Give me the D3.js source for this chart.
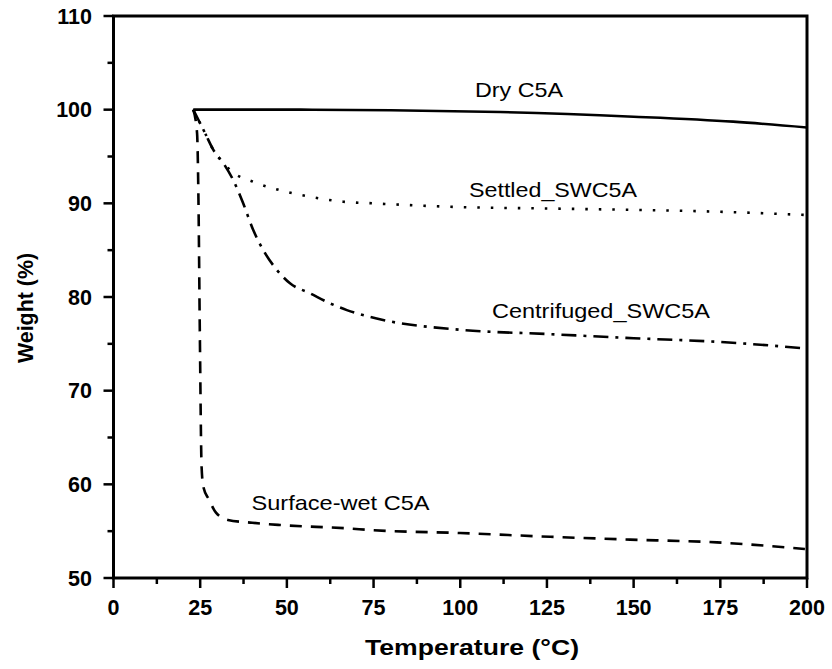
<!DOCTYPE html>
<html><head><meta charset="utf-8">
<script src="https://cdn.jsdelivr.net/npm/d3@7"></script>
<style>body{margin:0;background:#fff;} svg{display:block;}</style>
</head><body>
<svg id="chart" width="832" height="669"></svg>
<script>
const xTicks = [0, 25, 50, 75, 100, 125, 150, 175, 200];
const yTicks = [50, 60, 70, 80, 90, 100, 110];

const dryT = [23, 54, 80, 111.5, 150, 178.7, 200];
const dryW = [100, 100, 99.93, 99.75, 99.25, 98.72, 98.1];

const settledT = [23, 26.4, 28.8, 31.7, 34.1, 40.3, 48, 56.7, 66.3, 74.8, 100, 125, 150, 175, 200];
const settledW = [100, 97.5, 95.7, 94.3, 93.4, 92.3, 91.4, 90.7, 90.17, 90.0, 89.6, 89.45, 89.3, 89.1, 88.75];

const centT = [23, 26.4, 28.8, 31.7, 34.5, 37.4, 40.3, 43.2, 47.1, 50.9, 56.7, 62.4, 67.3, 75.9, 100, 125, 150, 175, 200];
const centW = [100, 97.5, 95.7, 94.27, 92.5, 90.0, 87.15, 85.0, 82.9, 81.46, 80.4, 79.33, 78.6, 77.7, 76.5, 76.05, 75.6, 75.2, 74.5];

const wetT = [23, 24.1, 24.5, 24.9, 25.4, 25.9, 27.5, 29.5, 33, 40, 48, 67.3, 75, 100, 125.9, 149, 174, 199.4];
const wetW = [100, 97.5, 90.4, 76.1, 61.9, 59.75, 58.4, 57.0, 56.2, 55.9, 55.66, 55.3, 55.1, 54.8, 54.4, 54.1, 53.8, 53.1];

const seriesNames = ["Dry C5A", "Settled_SWC5A", "Centrifuged_SWC5A", "Surface-wet C5A"];

const svg = d3.select("#chart");
const L = 113.5, R = 807, T = 16, B = 578;
const x = d3.scaleLinear().domain([0, 200]).range([L, R]);
const y = d3.scaleLinear().domain([50, 110]).range([B, T]);

const font = "Arial, 'Liberation Sans', sans-serif";

// frame
svg.append("rect").attr("x", L).attr("y", T).attr("width", R - L).attr("height", B - T)
  .attr("fill", "none").attr("stroke", "#000").attr("stroke-width", 3);

// x axis ticks
const xMinor = d3.range(12.5, 200, 25);
svg.selectAll(".xt").data(xTicks).enter().append("line")
  .attr("x1", d => x(d)).attr("x2", d => x(d)).attr("y1", B).attr("y2", B + 10)
  .attr("stroke", "#000").attr("stroke-width", 2.5);
svg.selectAll(".xm").data(xMinor).enter().append("line")
  .attr("x1", d => x(d)).attr("x2", d => x(d)).attr("y1", B).attr("y2", B + 6)
  .attr("stroke", "#000").attr("stroke-width", 2.5);
svg.selectAll(".xl").data(xTicks).enter().append("text")
  .attr("x", d => x(d)).attr("y", 615).attr("text-anchor", "middle")
  .attr("font-family", font).attr("font-weight", "bold").attr("font-size", 21.5)
  .text(d => d);

// y axis ticks
const yMinor = d3.range(55, 110, 10);
svg.selectAll(".yt").data(yTicks).enter().append("line")
  .attr("x1", L - 10).attr("x2", L).attr("y1", d => y(d)).attr("y2", d => y(d))
  .attr("stroke", "#000").attr("stroke-width", 2.5);
svg.selectAll(".ym").data(yMinor).enter().append("line")
  .attr("x1", L - 6).attr("x2", L).attr("y1", d => y(d)).attr("y2", d => y(d))
  .attr("stroke", "#000").attr("stroke-width", 2.5);
svg.selectAll(".yl").data(yTicks).enter().append("text")
  .attr("x", 92).attr("y", d => y(d) + 7.5).attr("text-anchor", "end")
  .attr("font-family", font).attr("font-weight", "bold").attr("font-size", 21.5)
  .text(d => d);

// axis titles
svg.append("text").attr("x", 472).attr("y", 655).attr("text-anchor", "middle")
  .attr("font-family", font).attr("font-weight", "bold").attr("font-size", 21.5)
  .attr("textLength", 214).attr("lengthAdjust", "spacingAndGlyphs")
  .text("Temperature (°C)");
svg.append("text").attr("transform", "translate(33,308) rotate(-90)").attr("text-anchor", "middle")
  .attr("font-family", font).attr("font-weight", "bold").attr("font-size", 21.5)
  .attr("textLength", 110).attr("lengthAdjust", "spacingAndGlyphs")
  .text("Weight (%)");

// lines
const line = d3.line().x(d => x(d[0])).y(d => y(d[1])).curve(d3.curveMonotoneX);
const zip = (a, b) => a.map((v, i) => [v, b[i]]);
const series = [
  {t: dryT, w: dryW, dash: null},
  {t: settledT, w: settledW, dash: "2.5,11"},
  {t: centT, w: centW, dash: "15,7,3,7"},
  {t: wetT, w: wetW, dash: "12,9"}
];
series.forEach(s => {
  svg.append("path").attr("d", line(zip(s.t, s.w)))
    .attr("fill", "none").attr("stroke", "#000").attr("stroke-width", 2.6)
    .attr("stroke-dasharray", s.dash);
});

// annotations
const ann = [
  {x: 475, y: 96.7, len: 88},
  {x: 469, y: 196.7, len: 168},
  {x: 492, y: 318.3, len: 218},
  {x: 251.5, y: 510, len: 178}
];
ann.forEach((a, i) => {
  svg.append("text").attr("x", a.x).attr("y", a.y)
    .attr("font-family", font).attr("font-size", 21)
    .attr("textLength", a.len).attr("lengthAdjust", "spacingAndGlyphs")
    .text(seriesNames[i]);
});
</script>
</body></html>
